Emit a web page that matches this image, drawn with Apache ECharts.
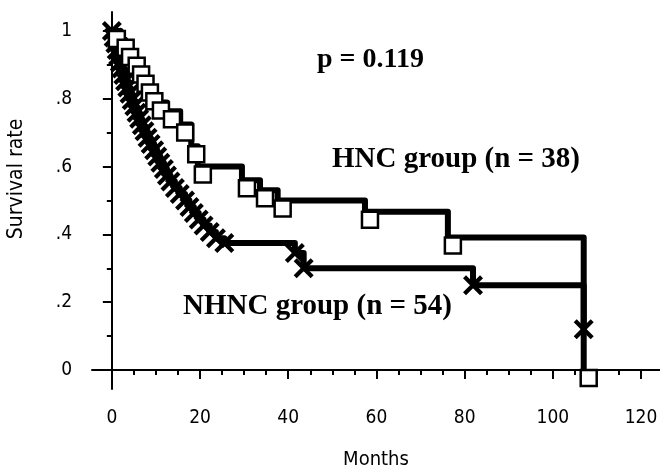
<!DOCTYPE html>
<html>
<head>
<meta charset="utf-8">
<script src="https://cdn.jsdelivr.net/npm/echarts@6/dist/echarts.min.js"></script>
<style>
  html, body { margin: 0; padding: 0; background: #fff; }
  #chart { width: 660px; height: 467px; }
</style>
</head>
<body>
<div id="chart"></div>
<script>
// Kaplan-Meier steps: time (months) and survival after the step
const hncT = [0, 2, 3, 4.5, 5.5, 6.5, 7.5, 8.5, 10, 12.5, 15.5, 18, 19.5, 29.5, 33.6, 37.6, 57.4, 76.2, 107];
const hncS = [1, 0.974, 0.947, 0.921, 0.895, 0.868, 0.842, 0.816, 0.789, 0.763, 0.724, 0.66, 0.6, 0.56, 0.53, 0.5, 0.467, 0.391, 0];

const nhncT = [0, 0.4, 0.8, 1.1, 1.4, 1.8, 2.2, 2.6, 3.0, 3.5, 4.0, 4.5, 5.1, 5.6, 6.2, 6.8, 7.4, 8.1, 8.8, 9.6, 10.3,
  11.0, 11.8, 12.5, 13.3, 14.3, 15.4, 16.6, 17.6, 18.6, 19.7, 20.8, 22.2, 23.6, 25.5, 41.5, 43.5, 81.9, 107];
const nhncS = [1, 0.981, 0.963, 0.944, 0.926, 0.907, 0.889, 0.870, 0.852, 0.833, 0.815, 0.796, 0.778, 0.759, 0.741, 0.722,
  0.704, 0.685, 0.667, 0.648, 0.630, 0.611, 0.593, 0.574, 0.556, 0.537, 0.519, 0.500, 0.481, 0.463, 0.444, 0.426,
  0.407, 0.389, 0.375, 0.345, 0.30, 0.25, 0.12];

const xTicks = [0, 20, 40, 60, 80, 100, 120];
const xMinor = [5, 10, 15, 25, 30, 35, 45, 50, 55, 65, 70, 75, 85, 90, 95, 105, 110, 115];
const yTicks = [0, 0.2, 0.4, 0.6, 0.8, 1];
const yMinor = [0.1, 0.3, 0.5, 0.7, 0.9];

const pair = (t, s) => t.map((v, i) => [v, s[i]]);
const narrow = '"Liberation Sans Narrow", "DejaVu Sans Condensed", sans-serif';
const serif = '"Liberation Serif", "DejaVu Serif", serif';
const xMark = 'path://M0,1.5L1.5,0L5,3.5L8.5,0L10,1.5L6.5,5L10,8.5L8.5,10L5,6.5L1.5,10L0,8.5L3.5,5Z';

const chart = echarts.init(document.getElementById('chart'));

const option = {
  animation: false,
  grid: {left: 92, right: 0, top: 12, bottom: 78, outerBoundsMode: 'none'},
  xAxis: [
    {
      type: 'value', min: -4.5, max: 124.3,
      name: 'Months', nameLocation: 'middle', nameGap: 61,
      nameTextStyle: {color: '#000', fontSize: 20, fontFamily: narrow},
      axisLine: {lineStyle: {color: '#000', width: 2}},
      axisTick: {customValues: xTicks, length: 9, lineStyle: {color: '#000', width: 2}},
      axisLabel: {customValues: xTicks, color: '#000', fontSize: 19, fontFamily: narrow, margin: 20},
      splitLine: {show: false}
    },
    {
      type: 'value', min: -4.5, max: 124.3, position: 'bottom',
      axisLine: {show: false},
      axisTick: {customValues: xMinor, length: 5, lineStyle: {color: '#000', width: 2}},
      axisLabel: {show: false},
      splitLine: {show: false}
    }
  ],
  yAxis: [
    {
      type: 'value', min: -0.056, max: 1.056, position: 'left',
      axisLine: {show: true, lineStyle: {color: '#000', width: 2}},
      axisTick: {show: true, customValues: yTicks, length: 9, lineStyle: {color: '#000', width: 2}},
      axisLabel: {
        customValues: yTicks, color: '#000', fontSize: 19, fontFamily: narrow, margin: 20,
        formatter: v => (v === 0 || v === 1) ? String(v) : String(+v.toFixed(1)).replace('0.', '.')
      },
      splitLine: {show: false}
    },
    {
      type: 'value', min: -0.056, max: 1.056, position: 'left',
      axisLine: {show: false},
      axisTick: {show: true, customValues: yMinor, length: 5, lineStyle: {color: '#000', width: 2}},
      axisLabel: {show: false},
      splitLine: {show: false}
    }
  ],
  graphic: [
    {type: 'text', x: 17, y: 179, rotation: Math.PI / 2,
      style: {text: 'Survival rate', fill: '#000', font: '21px ' + narrow, align: 'center', verticalAlign: 'middle'}},
    {type: 'text', x: 317, y: 60,
      style: {text: 'p = 0.119', fill: '#000', font: 'bold 28px ' + serif, align: 'left', verticalAlign: 'middle'}},
    {type: 'text', x: 332, y: 160,
      style: {text: 'HNC group (n = 38)', fill: '#000', font: 'bold 29px ' + serif, align: 'left', verticalAlign: 'middle'}},
    {type: 'text', x: 183, y: 307,
      style: {text: 'NHNC group (n = 54)', fill: '#000', font: 'bold 29px ' + serif, align: 'left', verticalAlign: 'middle'}}
  ],
  series: [
    {
      name: 'HNC', type: 'line', step: 'end', symbol: 'none',
      lineStyle: {color: '#000', width: 6, cap: 'round', join: 'round'},
      data: pair(hncT, hncS), z: 2
    },
    {
      name: 'NHNC', type: 'line', step: 'end', symbol: 'none',
      lineStyle: {color: '#000', width: 6, cap: 'round', join: 'round'},
      data: pair(nhncT, nhncS), z: 2
    },
    {
      name: 'NHNC marks', type: 'scatter', symbol: xMark, symbolSize: 20,
      itemStyle: {color: '#000', opacity: 1},
      data: pair(nhncT, nhncS), z: 3
    },
    {
      name: 'HNC marks', type: 'scatter', symbol: 'rect', symbolSize: 16, symbolOffset: [5, 8],
      itemStyle: {color: '#fff', borderColor: '#000', borderWidth: 2.5, opacity: 1},
      data: pair(hncT, hncS), z: 4
    }
  ]
};

chart.setOption(option);
window.addEventListener('resize', () => {
  chart.resize();
});
</script>
</body>
</html>
